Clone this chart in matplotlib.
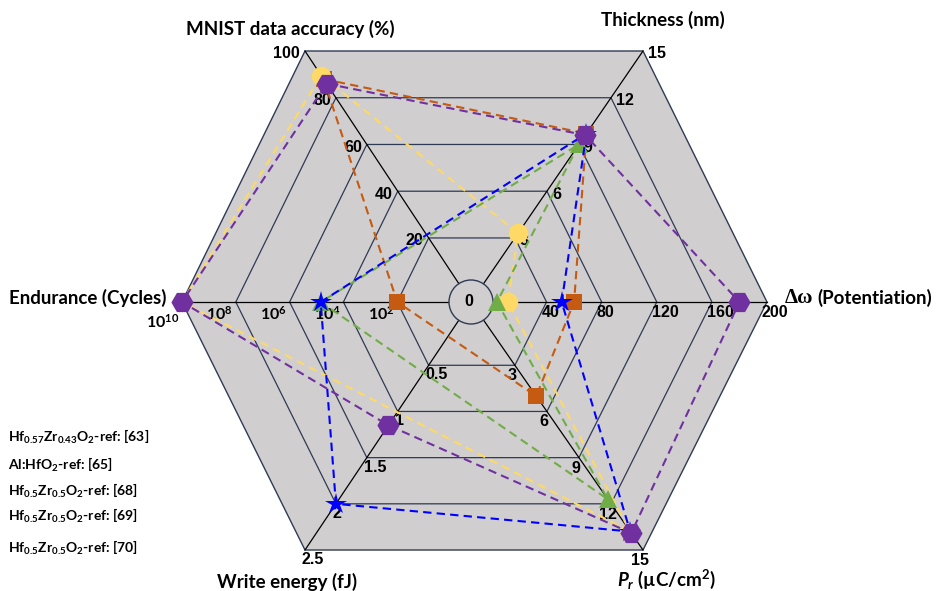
import numpy as np
import matplotlib.pyplot as plt
from matplotlib.patches import Polygon, Circle

plt.rcParams['font.family'] = ['Lato', 'DejaVu Sans']
plt.rcParams['mathtext.fontset'] = 'custom'
plt.rcParams['mathtext.rm'] = 'Lato:bold'
plt.rcParams['mathtext.bf'] = 'Lato:bold'
plt.rcParams['mathtext.it'] = 'Lato:bold:italic'

# axes of the radar (clockwise from top-left)
mnist_ticks = [20, 40, 60, 80, 100]
thick_ticks = [3, 6, 9, 12, 15]
dw_ticks = [40, 80, 120, 160, 200]
pr_ticks = [3, 6, 9, 12, 15]
energy_ticks = [0.5, 1, 1.5, 2, 2.5]
endurance_exp = [2, 4, 6, 8, 10]

# series: orange, yellow, green, blue, purple
refs = [r'Hf$_{0.57}$Zr$_{0.43}$O$_2$-ref: [63]',
        r'Al:HfO$_2$-ref: [65]',
        r'Hf$_{0.5}$Zr$_{0.5}$O$_2$-ref: [68]',
        r'Hf$_{0.5}$Zr$_{0.5}$O$_2$-ref: [69]',
        r'Hf$_{0.5}$Zr$_{0.5}$O$_2$-ref: [70]']
mnist = [88, 89.5, np.nan, np.nan, 86]
thickness = [9.7, 3.3, 9.0, 9.7, 9.6]
potentiation = [60, 12, 4, 51, 180]
pr = [5.0, 13.8, 11.7, 13.8, 13.9]
write_energy = [np.nan, np.nan, np.nan, 2.0, 1.15]
endurance = [1e2, 1e10, 7e4, 7e4, 1e10]

colors = ['#C55A11', '#FFD966', '#70AD47', '#0000FF', '#7030A0']
markers = ['s', 'o', '^', '*', 'H']
msizes = [11, 14, 13, 16, 16]

# geometry in pixels
C = np.array([471.0, 302.0])
V = np.array([[-166, -251], [172, -251], [296, 0],
              [172, 248], [-166, 248], [-289, 0]], dtype=float)
R0, STEP = 20.0, 54.0
RMAX = R0 + 5 * STEP


def to_u(k, v):
    if k == 0:
        return v / 100 * 5
    if k == 1:
        return v / 15 * 5
    if k == 2:
        return v / 200 * 5
    if k == 3:
        return v / 15 * 5
    if k == 4:
        return v / 2.5 * 5
    return np.log10(v) / 2


def pos(k, u):
    return C + (R0 + STEP * u) / RMAX * V[k]


fig = plt.figure(figsize=(9.36, 5.91), dpi=100)
ax = fig.add_axes([0, 0, 1, 1])
ax.set_xlim(0, 936)
ax.set_ylim(591, 0)
ax.axis('off')

ring_col = '#2E3B55'
outer = np.array([pos(k, 5) for k in range(6)])
ax.add_patch(Polygon(outer, closed=True, facecolor='#D0CECF',
                     edgecolor=ring_col, lw=1.0, zorder=1))
for i in range(1, 5):
    ring = np.array([pos(k, i) for k in range(6)])
    ax.add_patch(Polygon(ring, closed=True, fill=False,
                         edgecolor=ring_col, lw=0.9, zorder=2))
for k in range(6):
    p = pos(k, 5)
    ax.plot([C[0], p[0]], [C[1], p[1]], color='black', lw=0.9, zorder=2)
ax.add_patch(Circle(C, 22, facecolor='#D0CECF', edgecolor=ring_col,
                    lw=1.0, zorder=3))
ax.text(C[0] - 2, C[1], '0', ha='center', va='center', fontsize=11.5,
        fontweight='bold', family='Liberation Sans', zorder=4)

# tick labels: (labels, ha, va, dx, dy)
tick_specs = [
    ([str(t) for t in mnist_ticks], 'right', 'center', -5, 3),
    ([str(t) for t in thick_ticks], 'left', 'center', 5, 3),
    ([str(t) for t in dw_ticks], 'left', 'top', -5, 3),
    ([str(t) for t in pr_ticks], 'center', 'top', -3, 3),
    ([('%g' % t) for t in energy_ticks], 'left', 'top', -3, 2),
    ([r'$10^{%d}$' % e for e in endurance_exp], 'right', 'top', -3, 3),
]
for k, (labs, ha, va, dx, dy) in enumerate(tick_specs):
    for i, lab in enumerate(labs):
        p = pos(k, i + 1)
        extra = 8 if (k == 5 and i == 4) else 0
        ax.text(p[0] + dx, p[1] + dy + extra, lab, ha=ha, va=va,
                fontsize=11.5, fontweight='bold', family='Liberation Sans',
                zorder=6)

# axis titles
tfs = 13.5
ax.text(290, 29, 'MNIST data accuracy (%)', ha='center', va='center',
        fontsize=tfs, fontweight='bold')
ax.text(663, 20, 'Thickness (nm)', ha='center', va='center',
        fontsize=tfs, fontweight='bold')
ax.text(785, 298, 'Δω', ha='left', va='center', fontsize=15,
        fontweight='bold', family='Liberation Serif')
ax.text(817, 298, '(Potentiation)', ha='left', va='center',
        fontsize=tfs, fontweight='bold')
ax.text(88, 298, 'Endurance (Cycles)', ha='center', va='center',
        fontsize=tfs, fontweight='bold')
ax.text(287, 582, 'Write energy (fJ)', ha='center', va='center',
        fontsize=tfs, fontweight='bold')
ax.text(666, 579, r'$P_r$ (µC/cm$^2$)', ha='center', va='center',
        fontsize=tfs, fontweight='bold')

# series
data = [mnist, thickness, potentiation, pr, write_energy, endurance]
for s in range(5):
    pts = []
    for k in range(6):
        v = data[k][s]
        if not np.isnan(v):
            pts.append(pos(k, to_u(k, v)))
    pts = np.array(pts)
    loop = np.vstack([pts, pts[:1]])
    ax.plot(loop[:, 0], loop[:, 1], color=colors[s], lw=1.5,
            linestyle=(0, (4, 2.5)), zorder=10 + s)
    ax.plot(pts[:, 0], pts[:, 1], linestyle='none', marker=markers[s],
            ms=msizes[s], color=colors[s], markeredgewidth=0, zorder=10 + s)

# legend text
for lab, y in zip(refs, [437, 465, 491, 516, 548]):
    ax.text(8, y, lab, ha='left', va='center', fontsize=10,
            fontweight='bold')

fig.savefig('out.png', dpi=100)
